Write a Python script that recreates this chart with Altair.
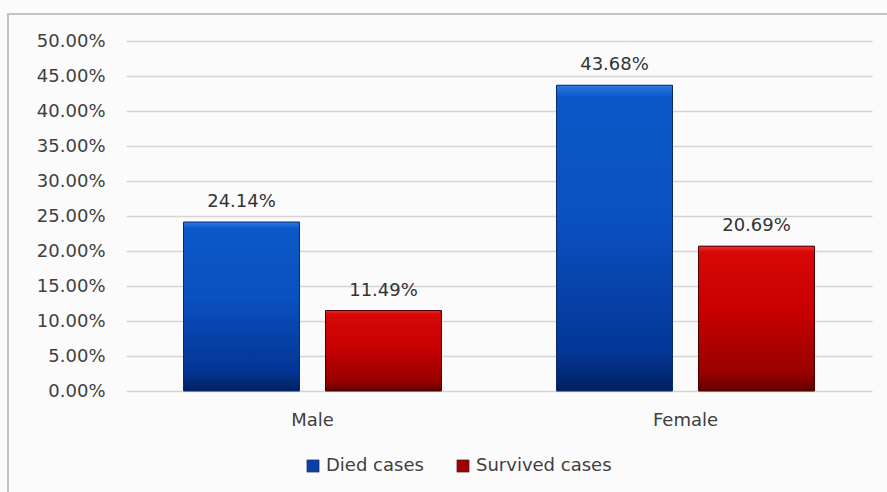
import altair as alt
import pandas as pd

# Chart values
sexes = ["Male", "Female"]
series = ["Died cases", "Survived cases"]
died = [0.2414, 0.4368]
survived = [0.1149, 0.2069]

rows = []
for i, s in enumerate(sexes):
    rows.append({"sex": s, "series": series[0], "value": died[i]})
    rows.append({"sex": s, "series": series[1], "value": survived[i]})
df = pd.DataFrame(rows)

PLOT_W, PLOT_H = 746, 350
FONT = "DejaVu Sans"
TXT = "#404040"

x_enc = alt.X("sex:N", sort=sexes, title=None,
              scale=alt.Scale(paddingInner=0, paddingOuter=0),
              axis=alt.Axis(labelAngle=0, domain=False, ticks=False,
                            labelFontSize=18, labelColor=TXT,
                            labelFont=FONT, labelPadding=20, grid=False))
xoff_enc = alt.XOffset("series:N", sort=series,
                       scale=alt.Scale(domain=series, paddingInner=0.183,
                                       paddingOuter=0.405))
y_enc = alt.Y("value:Q", title=None,
              scale=alt.Scale(domain=[0, 0.5], nice=False),
              axis=alt.Axis(format=".2%", values=[i * 0.05 for i in range(11)],
                            domain=False, ticks=False, labelFontSize=18,
                            labelColor=TXT, labelFont=FONT,
                            labelPadding=21, gridColor="#d4d4d4",
                            gridWidth=1.5))

base = alt.Chart(df)

# Outer frame of the chart (outline only, so the grid stays visible)
frame = alt.Chart(pd.DataFrame({"k": [0]})).mark_rect(
    fillOpacity=0, stroke="#c4c4c4", strokeWidth=2
).encode(x=alt.value(-118), x2=alt.value(800), y=alt.value(-27), y2=alt.value(480))

# Solid bars carrying the legend
legend_bars = base.mark_bar().encode(
    x=x_enc, xOffset=xoff_enc, y=y_enc,
    color=alt.Color("series:N", sort=series, title=None,
                    scale=alt.Scale(domain=series, range=["#0a3ea8", "#a00000"]),
                    legend=alt.Legend(orient="none", direction="horizontal",
                                      legendX=178, legendY=416,
                                      symbolType="square", symbolSize=150,
                                      symbolStrokeColor="#333333",
                                      symbolStrokeWidth=0.5,
                                      labelFontSize=18, labelFont=FONT,
                                      labelColor=TXT, columnPadding=30,
                                      symbolOffset=0, labelOffset=4)),
)

blue_grad = alt.Gradient(
    gradient="linear", x1=0, x2=0, y1=0, y2=1,
    stops=[alt.GradientStop(color="#2a78e6", offset=0),
           alt.GradientStop(color="#0c58c8", offset=0.04),
           alt.GradientStop(color="#0a50c0", offset=0.45),
           alt.GradientStop(color="#043595", offset=0.88),
           alt.GradientStop(color="#00205f", offset=1)])
red_grad = alt.Gradient(
    gradient="linear", x1=0, x2=0, y1=0, y2=1,
    stops=[alt.GradientStop(color="#f03030", offset=0),
           alt.GradientStop(color="#d80808", offset=0.04),
           alt.GradientStop(color="#c80000", offset=0.45),
           alt.GradientStop(color="#980000", offset=0.88),
           alt.GradientStop(color="#620000", offset=1)])

died_bars = base.transform_filter(alt.datum.series == series[0]).mark_bar(
    fill=blue_grad, stroke="#0a2a6a", strokeWidth=1
).encode(x=x_enc, xOffset=xoff_enc, y=y_enc)

surv_bars = base.transform_filter(alt.datum.series == series[1]).mark_bar(
    fill=red_grad, stroke="#4a0000", strokeWidth=1
).encode(x=x_enc, xOffset=xoff_enc, y=y_enc)

labels = base.mark_text(
    baseline="bottom", dy=-11, fontSize=18, font=FONT, color="#333333"
).encode(x=x_enc, xOffset=xoff_enc, y=y_enc,
         text=alt.Text("value:Q", format=".2%"))

chart = alt.layer(frame, legend_bars, died_bars, surv_bars, labels).properties(
    width=PLOT_W, height=PLOT_H,
    autosize=alt.AutoSizeParams(type="none"),
    padding={"left": 126, "top": 41, "right": 15, "bottom": 101},
    background="#fbfbfb",
).configure_view(stroke=None)

chart.save("out.html", embed_options={"renderer": "svg", "actions": False})
